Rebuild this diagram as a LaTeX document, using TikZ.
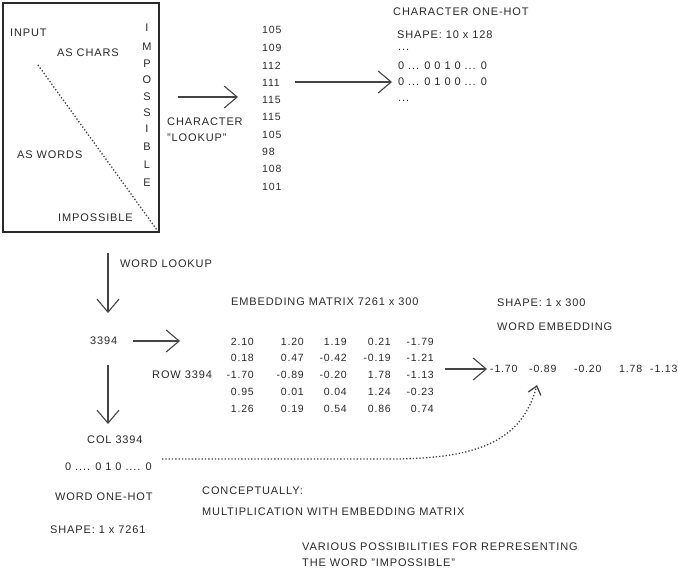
\documentclass[tikz,border=0pt]{standalone}
\usepackage{fontspec}
\setmainfont{Liberation Sans}[LetterSpace=8]
\usetikzlibrary{arrows.meta}
\definecolor{ink}{HTML}{2a2a2a}
\definecolor{lineink}{HTML}{444444}
\begin{document}
\begin{tikzpicture}[x=1pt,y=-1pt,
  every node/.style={text=ink, inner sep=0pt, font=\fontsize{11}{13}\selectfont},
  lbl/.style={anchor=west},
  num/.style={anchor=west, font=\fontsize{10.5}{12}\selectfont},
  mnum/.style={anchor=east, font=\fontsize{10.5}{12}\selectfont},
  arr/.style={draw=lineink, line width=1.1pt, -{Straight Barb[length=13pt,width=22pt]}},
  dotarr/.style={draw=lineink, line width=1.3pt, dotted, -{Straight Barb[length=8pt,width=13pt]}},
  dotline/.style={draw=lineink, line width=1.3pt, dotted}]
\useasboundingbox (0,0) rectangle (678,573);
\fill[white] (0,0) rectangle (678,573);

% input box
\node[draw=ink, line width=1.6pt, minimum width=156pt, minimum height=229pt, anchor=north west] (inputbox) at (2,2) {};
\node[lbl] (input) at (10,33) {INPUT};
\node[lbl] (aschars) at (57,53) {AS CHARS};
\node[lbl] (aswords) at (17,155) {AS WORDS};
\node[lbl] (impword) at (58,218) {IMPOSSIBLE};
\foreach \ch/\yy [count=\i] in {I/28,M/47,P/64,O/80,S/97,S/113,I/129,B/147,L/165,E/183}
  \node (vl\i) at (147,\yy) {\ch};
\coordinate (diagA) at (38,65);
\coordinate (diagB) at (157,230);
\draw[dotline] (diagA) -- (diagB);

% character lookup
\coordinate (ca1) at (178,97);
\coordinate (ca2) at (238,97);
\draw[arr] (ca1) -- (ca2);
\node[lbl] (charlbl) at (167,122) {CHARACTER};
\node[lbl] (lookuplbl) at (167,138) {"LOOKUP"};
\foreach \v/\yy [count=\i] in {105/30,109/48,112/66,111/83,115/100,115/117,105/135,98/152,108/169,101/187}
  \node[num] (code\i) at (262,\yy) {\v};
\coordinate (cb1) at (295,82);
\coordinate (cb2) at (392,82);
\draw[arr] (cb1) -- (cb2);
\node[lbl] (onehottitle) at (393,12) {CHARACTER ONE-HOT};
\node[lbl] (shape1) at (397,35) {SHAPE: 10 x 128};
\node[lbl] (dots1) at (398,50) {...};
\node[lbl] (oh1) at (398,66) {0 ... 0 0 1 0 ... 0};
\node[lbl] (oh2) at (398,82) {0 ... 0 1 0 0 ... 0};
\node[lbl] (dots2) at (398,101) {...};

% word lookup
\coordinate (wa1) at (108,253);
\coordinate (wa2) at (108,313);
\draw[arr] (wa1) -- (wa2);
\node[lbl] (wordlookup) at (120,264) {WORD LOOKUP};
\node[lbl] (idx) at (90,341) {3394};
\coordinate (ra1) at (133,341);
\coordinate (ra2) at (180,341);
\draw[arr] (ra1) -- (ra2);
\node[lbl] (embtitle) at (231,302) {EMBEDDING MATRIX 7261 x 300};
\node[lbl] (rowlbl) at (152,375) {ROW 3394};
\foreach \a/\b/\c/\d/\e/\yy [count=\r] in {
  2.10/1.20/1.19/0.21/-1.79/342,
  0.18/0.47/-0.42/-0.19/-1.21/358,
  -1.70/-0.89/-0.20/1.78/-1.13/375,
  0.95/0.01/0.04/1.24/-0.23/392,
  1.26/0.19/0.54/0.86/0.74/409}{
  \node[mnum] (m\r a) at (254,\yy) {\a};
  \node[mnum] (m\r b) at (304,\yy) {\b};
  \node[mnum] (m\r c) at (347,\yy) {\c};
  \node[mnum] (m\r d) at (391,\yy) {\d};
  \node[mnum] (m\r e) at (434,\yy) {\e};
}
\coordinate (ea1) at (445,369);
\coordinate (ea2) at (487,369);
\draw[arr] (ea1) -- (ea2);
\node[lbl] (shape2) at (497,303) {SHAPE: 1 x 300};
\node[lbl] (wordemb) at (497,327) {WORD EMBEDDING};
\foreach \v/\xx [count=\i] in {-1.70/490,-0.89/529,-0.20/574,1.78/619,-1.13/650}
  \node[num] (emb\i) at (\xx,369) {\v};

% word one-hot
\coordinate (da1) at (108,365);
\coordinate (da2) at (108,424);
\draw[arr] (da1) -- (da2);
\node[lbl] (col) at (87,440) {COL 3394};
\node[lbl] (woh) at (65,467) {0 .... 0 1 0 .... 0};
\node[lbl] (wohlbl) at (55,497) {WORD ONE-HOT};
\node[lbl] (shape3) at (50,530) {SHAPE: 1 x 7261};
\coordinate (cs) at (162,459);
\coordinate (cm) at (390,459);
\coordinate (ce) at (537,385);
\draw[dotarr] (cs) -- (cm) .. controls (480,459) and (522,440) .. (ce);
\node[lbl] (concept) at (202,491) {CONCEPTUALLY:};
\node[lbl] (mult) at (202,512) {MULTIPLICATION WITH EMBEDDING MATRIX};
\node[lbl] (cap1) at (302,547) {VARIOUS POSSIBILITIES FOR REPRESENTING};
\node[lbl] (cap2) at (302,563) {THE WORD "IMPOSSIBLE"};
\end{tikzpicture}
\end{document}
